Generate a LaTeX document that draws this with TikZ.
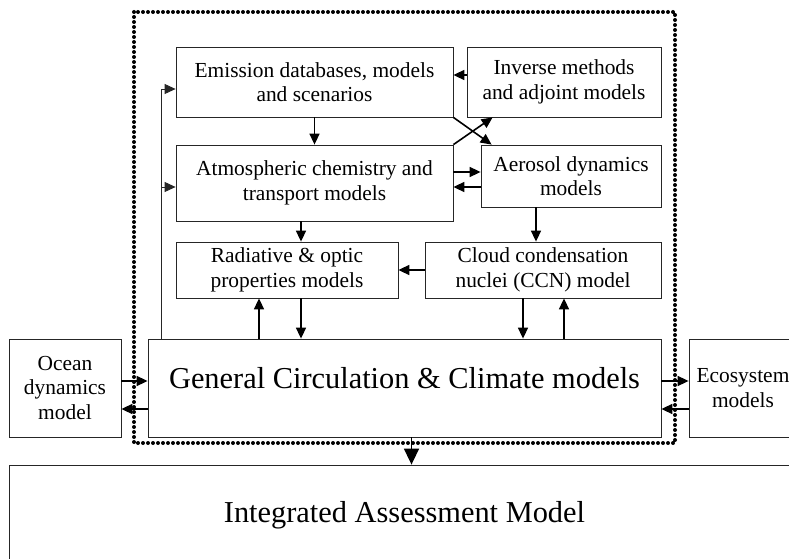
\documentclass[tikz,border=0pt]{standalone}
\usepackage{fontspec}
\setmainfont{Liberation Serif}
\usetikzlibrary{arrows.meta,calc}
\newcommand{\boxfont}{\fontsize{21.5}{24.5}\selectfont}
\newcommand{\bigfont}{\fontsize{30.5}{34}\selectfont}

\begin{document}
\begin{tikzpicture}[x=1bp, y=-1bp, >={Triangle[length=11bp,width=10bp]},
  box/.style={draw=black!85, line width=0.8bp, align=center, font=\boxfont, inner sep=0pt},
  link/.style={->, line width=1.6bp},
  feed/.style={->, line width=0.8bp, draw=black!85}]
  \useasboundingbox (0,0) rectangle (789,559);
  \clip (0,0) rectangle (789,559);

  \draw[line width=4bp, dash pattern=on 0bp off 5bp, line cap=round] (134,12) rectangle (675,443);

  \node[box, minimum width=277bp, minimum height=70bp] (emis) at (314.5,82) {Emission databases, models\\and scenarios};
  \node[box, minimum width=194bp, minimum height=70bp] (inv) at (564,82) {Inverse methods\\and adjoint models};
  \node[box, minimum width=277bp, minimum height=76bp] (atmos) at (314.5,183) {Atmospheric chemistry and\\transport models};
  \node[box, minimum width=180bp, minimum height=62bp] (aer) at (571,176) {Aerosol dynamics\\models};
  \node[box, minimum width=222bp, minimum height=56bp] (rad) at (287,270) {Radiative \& optic\\properties models};
  \node[box, minimum width=236bp, minimum height=56bp] (ccn) at (543,270) {Cloud condensation\\nuclei (CCN) model};
  \node[box, minimum width=513bp, minimum height=98bp,
    label={[font=\bigfont, yshift=10bp]center:General Circulation \& Climate models}] (gcm) at (404.5,388) {};
  \node[box, minimum width=112bp, minimum height=98bp] (ocean) at (65,388) {Ocean\\dynamics\\model};
  \node[box, minimum width=108bp, minimum height=98bp] (eco) at (743,388) {Ecosystem\\models};
  \node[box, minimum width=791bp, minimum height=100bp, font=\bigfont] (iam) at (404.5,515) {Integrated Assessment Model};

  % feedback from the GCM to emissions and chemistry
  \coordinate (fb) at ([xshift=14bp]gcm.north west);
  \coordinate (atmin) at ($(atmos.west)+(0,4)$);
  \draw[feed] (fb) |- ($(emis.west)+(0,7)$);
  \draw[feed] (fb |- atmin) -- (atmin);

  \draw[link] ($(inv.west)+(0,-7)$) -- ($(emis.east)+(0,-7)$);
  \draw[link] (emis.south) -- (atmos.north);
  \draw[link] (emis.south east) -- ($(aer.north west)+(11,0)$);
  \draw[link] (atmos.north east) -- ($(inv.south west)+(26,0)$);
  \draw[link] ($(atmos.east)+(0,-11)$) -- ($(aer.west)+(0,-4)$);
  \draw[link] ($(aer.west)+(0,11)$) -- ($(atmos.east)+(0,4)$);

  \coordinate (radin) at ($(rad.north)+(14,0)$);
  \coordinate (ccnin) at ($(ccn.north)+(-7,0)$);
  \draw[link] (radin |- atmos.south) -- (radin);
  \draw[link] (ccnin |- aer.south) -- (ccnin);
  \draw[link] (ccn.west) -- (rad.east);

  \coordinate (radup) at ($(rad.south)+(-28,0)$);
  \coordinate (raddn) at ($(rad.south)+(14,0)$);
  \coordinate (ccndn) at ($(ccn.south)+(-20,0)$);
  \coordinate (ccnup) at ($(ccn.south)+(21,0)$);
  \draw[link] (radup |- gcm.north) -- (radup);
  \draw[link] (raddn) -- (raddn |- gcm.north);
  \draw[link] (ccndn) -- (ccndn |- gcm.north);
  \draw[link] (ccnup |- gcm.north) -- (ccnup);

  \draw[link] ($(ocean.east)+(0,-7)$) -- ($(gcm.west)+(0,-7)$);
  \draw[link] ($(gcm.west)+(0,21)$) -- ($(ocean.east)+(0,21)$);
  \draw[link] ($(gcm.east)+(0,-7)$) -- ($(eco.west)+(0,-7)$);
  \draw[link] ($(eco.west)+(0,21)$) -- ($(gcm.east)+(0,21)$);
  \draw[link, -{Triangle[length=16bp,width=15bp]}] ($(gcm.south)+(7,0)$) -- ($(iam.north)+(7,0)$);
\end{tikzpicture}
\end{document}
